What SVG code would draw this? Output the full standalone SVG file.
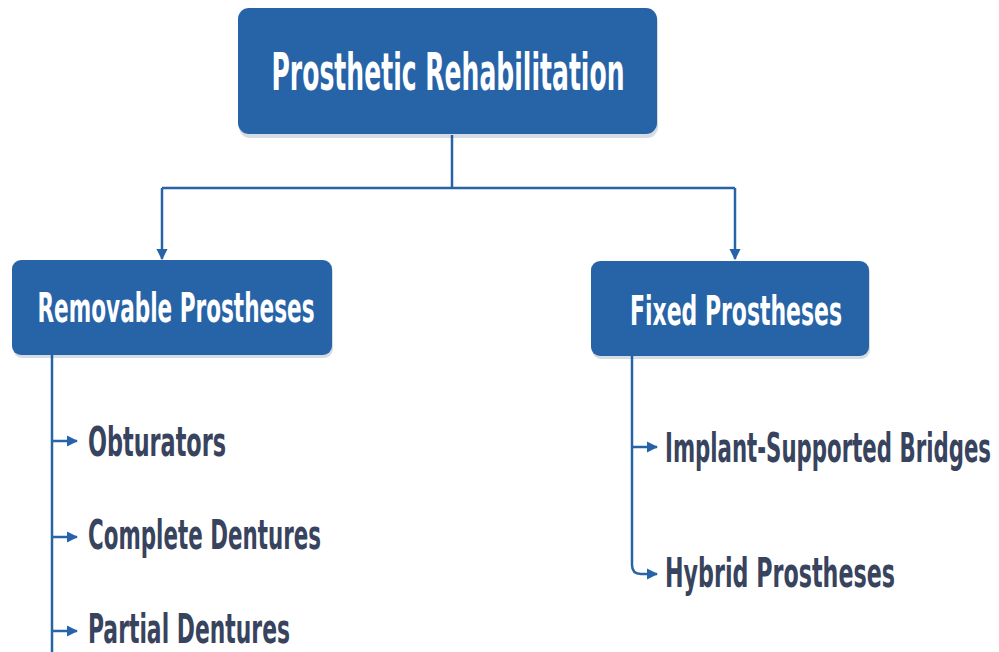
<svg xmlns="http://www.w3.org/2000/svg" width="999" height="652" viewBox="0 0 999 652">
<style>
.box{fill:#2764a7;}
.sh{fill:#1d3f66;opacity:0.18;}
.hd{font-family:"DejaVu Sans Condensed","Liberation Sans Narrow","Roboto",sans-serif;font-weight:bold;fill:#ffffff;}
.it{font-family:"DejaVu Sans Condensed","Liberation Sans Narrow","Roboto",sans-serif;font-weight:600;fill:#38435e;font-size:40px;}
.ln{fill:none;stroke:#2764a7;stroke-width:2.5;}
</style>
<defs>
<marker id="ah" viewBox="0 0 10 10" refX="9" refY="5" markerWidth="4.6" markerHeight="4.6" orient="auto" markerUnits="strokeWidth">
<path d="M0,0 L10,5 L0,10 z" fill="#2764a7"/>
</marker>
</defs>
<rect width="999" height="652" fill="#ffffff"/>
<g id="connectors">
<path class="ln" d="M452,135 V188"/>
<path class="ln" d="M162,188 H735"/>
<path class="ln" d="M162,188 V259" marker-end="url(#ah)"/>
<path class="ln" d="M735,188 V259" marker-end="url(#ah)"/>
<path class="ln" d="M52,355 V652"/>
<path class="ln" d="M52,441 H77" marker-end="url(#ah)"/>
<path class="ln" d="M52,537 H77" marker-end="url(#ah)"/>
<path class="ln" d="M52,631 H77" marker-end="url(#ah)"/>
<path class="ln" d="M632,356 V565 Q632,574 641,574 H657" marker-end="url(#ah)"/>
<path class="ln" d="M632,447 H657" marker-end="url(#ah)"/>
</g>
<g id="root">
<rect class="sh" x="239" y="11" width="419" height="127" rx="11"/>
<rect class="box" x="238" y="8" width="419" height="126" rx="11"/>
<text class="hd" x="448" y="90" text-anchor="middle" font-size="52" textLength="353" lengthAdjust="spacingAndGlyphs">Prosthetic Rehabilitation</text>
</g>
<g id="removable">
<rect class="sh" x="13" y="263" width="320" height="95" rx="9"/>
<rect class="box" x="12" y="260" width="320" height="95" rx="9"/>
<text class="hd" x="176" y="322" text-anchor="middle" font-size="40" textLength="277" lengthAdjust="spacingAndGlyphs">Removable Prostheses</text>
</g>
<g id="fixed">
<rect class="sh" x="592" y="264" width="278" height="95" rx="9"/>
<rect class="box" x="591" y="261" width="278" height="95" rx="9"/>
<text class="hd" x="736" y="325" text-anchor="middle" font-size="40" textLength="212" lengthAdjust="spacingAndGlyphs">Fixed Prostheses</text>
</g>
<g id="obturators"><text class="it" x="88" y="456" textLength="138" lengthAdjust="spacingAndGlyphs">Obturators</text></g>
<g id="complete"><text class="it" x="88" y="549" textLength="233" lengthAdjust="spacingAndGlyphs">Complete Dentures</text></g>
<g id="partial"><text class="it" x="88" y="643" textLength="202" lengthAdjust="spacingAndGlyphs">Partial Dentures</text></g>
<g id="implant"><text class="it" transform="translate(665,462) scale(1,1.82)" style="font-size:22px" textLength="326" lengthAdjust="spacingAndGlyphs">Implant-Supported Bridges</text></g>
<g id="hybrid"><text class="it" transform="translate(665,587) scale(1,1.43)" style="font-size:28px" textLength="230" lengthAdjust="spacingAndGlyphs">Hybrid Prostheses</text></g>
</svg>
